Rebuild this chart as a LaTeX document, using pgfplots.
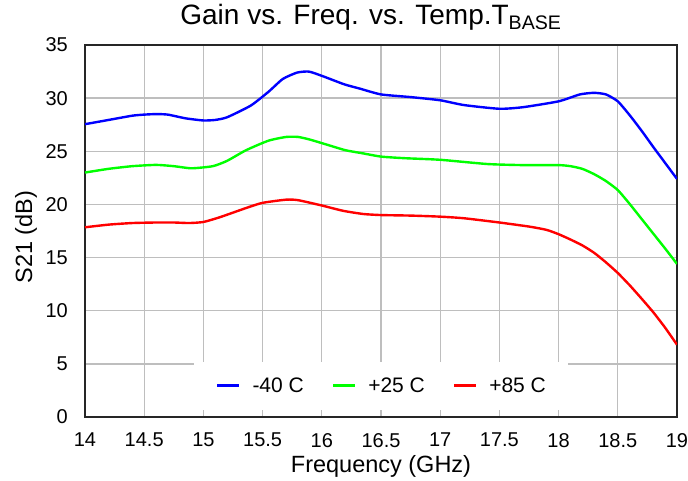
\documentclass[border=0pt]{standalone}
\usepackage{pgfplots}
\pgfplotsset{compat=1.18}
\usepackage{fontspec}
\setmainfont{Liberation Sans}
\definecolor{gridgray}{RGB}{190,190,190}
\begin{document}
\begin{tikzpicture}[x=1pt,y=1pt]
\useasboundingbox (-85,-63) rectangle (603,417);
\begin{axis}[
  at={(0,0)}, anchor=south west,
  scale only axis, width=592pt, height=372pt,
  xmin=14, xmax=19, ymin=0, ymax=35,
  xtick={14,14.5,15,15.5,16,16.5,17,17.5,18,18.5,19},
  xticklabels={14,14.5,15,15.5,16,16.5,17,17.5,18,18.5,19},
  ytick={0,5,10,15,20,25,30,35},
  yticklabels={0,5,10,15,20,25,30,35},
  /pgf/number format/assume math mode=true,
  tick label style={font=\fontsize{20}{24}\selectfont},
  xticklabel style={inner sep=0pt},
  yticklabel style={inner sep=0pt},
  xticklabel shift=16pt,
  yticklabel shift=17pt,
  major tick length=5pt,
  tick style={color=gridgray, line width=1.3pt},
  grid=major,
  major grid style={color=gridgray, line width=1.3pt},
  axis line style={line width=2.2pt, black!85},
  title={Gain vs. Freq. vs. Temp.T\textsubscript{BASE}},
  title style={at={(axis description cs:0.483,1.0403)}, anchor=base, font=\fontsize{28}{32}\selectfont, inner sep=0pt},
  xlabel={Frequency (GHz)},
  xlabel style={at={(axis description cs:0.5,-0.1505)}, anchor=base, font=\fontsize{23.5}{27}\selectfont, inner sep=0pt},
  ylabel={S21 (dB)},
  ylabel style={at={(axis description cs:-0.0895,0.484)}, anchor=base, font=\fontsize{23.5}{27}\selectfont, inner sep=0pt},
  legend columns=3,
  legend image code/.code={\draw[#1] (0pt,0pt) -- (22pt,0pt);},
  legend style={at={(axis description cs:0.5,0.019)}, anchor=south, draw=none, fill=white,
    font=\fontsize{21}{24}\selectfont, inner xsep=22pt, inner ysep=16pt,
    nodes={inner sep=0pt},
    /tikz/every odd column/.append style={column sep=12pt},
    /tikz/every even column/.append style={column sep=28pt}},
  every axis plot/.append style={line width=2.4pt, smooth, tension=0.35},
]
\addplot[color={rgb,255:red,0;green,0;blue,255}] coordinates {
(14.0,27.55) (14.2,27.95) (14.4,28.35) (14.5,28.45) (14.6,28.5) (14.7,28.45)
(14.85,28.1) (15.0,27.9) (15.1,27.95) (15.2,28.2) (15.4,29.3) (15.55,30.6)
(15.67,31.8) (15.79,32.4) (15.89,32.5) (16.0,32.1) (16.19,31.3) (16.32,30.9)
(16.5,30.35) (16.75,30.1) (17.0,29.8) (17.2,29.35) (17.5,29.0) (17.7,29.15)
(18.0,29.7) (18.18,30.35) (18.3,30.5) (18.4,30.35) (18.5,29.7) (18.6,28.4)
(18.7,26.95) (18.8,25.4) (18.9,23.9) (19.0,22.4)
};
\addlegendentry{-40 C}
\addplot[color={rgb,255:red,0;green,255;blue,0}] coordinates {
(14.0,23.0) (14.2,23.35) (14.4,23.6) (14.6,23.72) (14.75,23.6) (14.9,23.4)
(15.08,23.6) (15.2,24.1) (15.36,25.1) (15.55,26.0) (15.7,26.35) (15.8,26.35)
(15.9,26.1) (16.05,25.6) (16.2,25.1) (16.35,24.8) (16.5,24.5) (16.7,24.35)
(17.0,24.2) (17.4,23.8) (17.7,23.7) (18.0,23.7) (18.1,23.6) (18.2,23.35)
(18.3,22.85) (18.4,22.2) (18.5,21.35) (18.6,20.05) (18.7,18.65) (18.8,17.25)
(18.9,15.85) (19.0,14.4)
};
\addlegendentry{+25 C}
\addplot[color={rgb,255:red,255;green,0;blue,0}] coordinates {
(14.0,17.85) (14.2,18.1) (14.4,18.25) (14.6,18.3) (14.75,18.3) (14.88,18.25)
(15.0,18.35) (15.14,18.8) (15.37,19.7) (15.5,20.15) (15.7,20.45) (15.8,20.4)
(16.0,19.9) (16.18,19.4) (16.35,19.1) (16.5,19.0) (16.75,18.95) (17.0,18.85)
(17.2,18.7) (17.5,18.3) (17.76,17.9) (17.9,17.6) (18.0,17.2) (18.1,16.7)
(18.2,16.15) (18.3,15.45) (18.4,14.55) (18.5,13.55) (18.6,12.4) (18.7,11.15)
(18.8,9.85) (18.9,8.4) (19.0,6.8)
};
\addlegendentry{+85 C}
\end{axis}
\end{tikzpicture}
\end{document}
